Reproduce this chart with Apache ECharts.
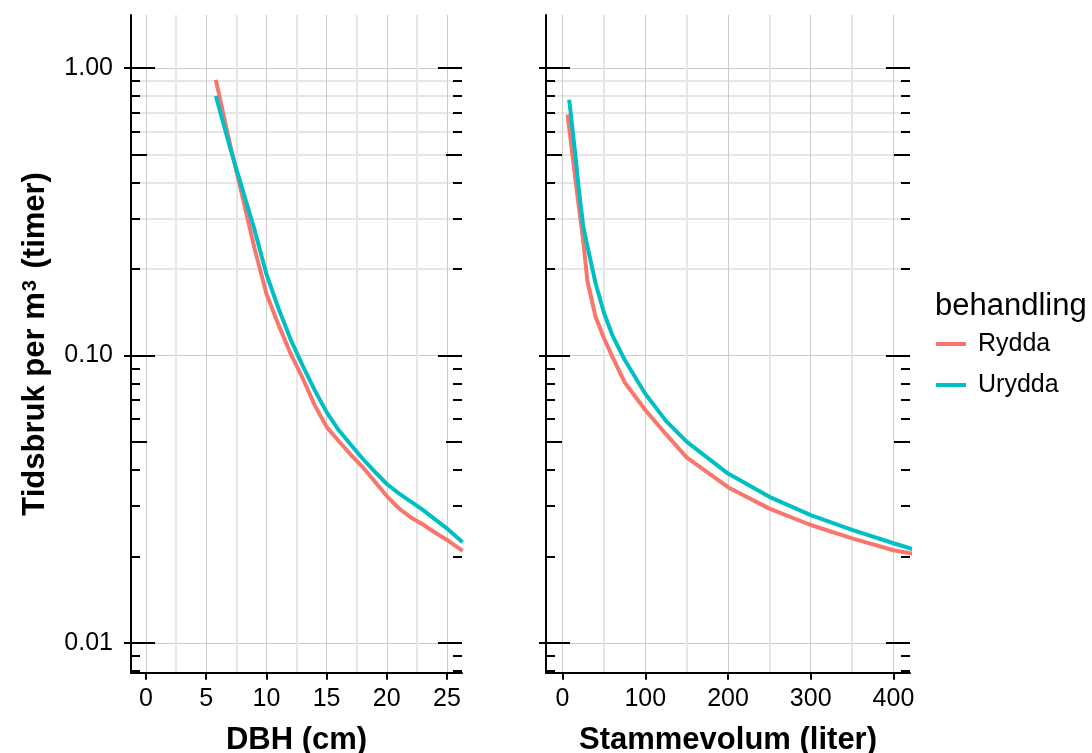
<!DOCTYPE html>
<html><head><meta charset="utf-8">
<script src="https://cdn.jsdelivr.net/npm/echarts@6/dist/echarts.min.js"></script>
<style>html,body{margin:0;padding:0;background:#fff}#c{width:1092px;height:753px}</style>
</head><body><div id="c"></div>
<script>
// ---------- data ----------
const seriesNames = ['Rydda', 'Urydda'];

// Left panel: DBH (cm)
const dbhX = [5.8, 7, 8, 9, 10, 11, 12, 13, 14, 15, 16, 17, 18, 19, 20, 21, 22, 23, 24, 25, 26.3];
const ryddaByDbh = [0.91, 0.538, 0.359, 0.237, 0.164, 0.128, 0.1016, 0.0836, 0.0673, 0.0564, 0.0504, 0.0452, 0.0409, 0.0364, 0.0324, 0.0294, 0.0273, 0.0258, 0.0242, 0.0228, 0.0209];
const uryddaByDbh = [0.80, 0.525, 0.380, 0.275, 0.192, 0.146, 0.114, 0.0923, 0.0759, 0.0635, 0.055, 0.049, 0.0437, 0.0394, 0.0357, 0.0331, 0.031, 0.029, 0.0269, 0.025, 0.0224];

// Right panel: Stammevolum (liter)
const volXRydda = [6, 10, 15, 20, 25, 30, 40, 50, 60, 75, 100, 125, 150, 200, 250, 300, 350, 400, 425];
const ryddaByVol = [0.69, 0.556, 0.422, 0.324, 0.251, 0.182, 0.136, 0.115, 0.0993, 0.0807, 0.0646, 0.0532, 0.0442, 0.0348, 0.0293, 0.0257, 0.0231, 0.0210, 0.0204];
const volXUrydda = [8, 10, 15, 20, 25, 30, 40, 50, 60, 75, 100, 125, 150, 200, 250, 300, 350, 400, 425];
const uryddaByVol = [0.776, 0.692, 0.513, 0.372, 0.282, 0.240, 0.178, 0.141, 0.118, 0.0966, 0.0736, 0.0592, 0.0501, 0.0388, 0.0322, 0.0278, 0.0247, 0.0222, 0.0211];

// Tick labels
const yTicks = [0.01, 0.1, 1];
const yTickLabels = ['0.01', '0.10', '1.00'];
const dbhTicks = [0, 5, 10, 15, 20, 25];
const dbhMinorGrid = [2.5, 7.5, 12.5, 17.5, 22.5];
const volTicks = [0, 100, 200, 300, 400];
const volMinorGrid = [50, 150, 250, 350];
const yMinorGrid = [0.2, 0.3, 0.4, 0.5, 0.6, 0.7, 0.8, 0.9];

// log tick positions (annotation_logticks)
const decades = [0.001, 0.01, 0.1, 1];
const logShort = [], logMid = [], logLong = [];
decades.forEach(d => {
  logLong.push(d);
  [2, 3, 4, 6, 7, 8, 9].forEach(k => logShort.push(+(k * d).toPrecision(3)));
  logMid.push(+(5 * d).toPrecision(3));
});

// ---------- style ----------
const colors = ['#F8766D', '#00BFC4'];
const FONT = '"Liberation Sans", Arial, sans-serif';
const yMin = 0.00787, yMax = 1.53;

function toPairs(xs, ys) { return xs.map((x, i) => [x, ys[i]]); }

function yAx(g, extra) {
  return Object.assign({
    type: 'log', logBase: 10, gridIndex: g, min: yMin, max: yMax,
    axisLine: { show: false, onZero: false },
    axisTick: { show: false },
    axisLabel: { show: false },
    splitLine: { show: false },
    minorTick: { show: false }, minorSplitLine: { show: false }
  }, extra);
}
function xAx(g, min, max, extra) {
  return Object.assign({
    type: 'value', gridIndex: g, min: min, max: max, position: 'bottom',
    axisLine: { show: false, onZero: false },
    axisTick: { show: false },
    axisLabel: { show: false },
    splitLine: { show: false }
  }, extra);
}

const tickLine = { color: '#000', width: 2 };
const majorGrid = { color: '#cccccc', width: 1 };
const minorGridStyle = { color: '#e6e6e6', width: 2 };

const xAxes = [], yAxes = [];
const panels = [
  { min: -1.25, max: 26.25, ticks: dbhTicks, minor: dbhMinorGrid, name: 'DBH (cm)' },
  { min: -20, max: 420, ticks: volTicks, minor: volMinorGrid, name: 'Stammevolum (liter)' }
];
const mainY = [];
const mainX = [];
panels.forEach((p, g) => {
  xAxes.push(xAx(g, p.min, p.max, {
    axisTick: { show: false, customValues: p.minor },
    splitLine: { show: true, lineStyle: minorGridStyle }
  }));
  mainX.push(xAxes.length);
  xAxes.push(xAx(g, p.min, p.max, {
    axisLine: { show: true, onZero: false, lineStyle: tickLine },
    axisTick: { show: true, length: 7, customValues: p.ticks, lineStyle: tickLine },
    axisLabel: { show: true, customValues: p.ticks, fontSize: 25, color: '#000', fontFamily: FONT, margin: 14 },
    splitLine: { show: true, lineStyle: majorGrid },
    name: p.name, nameLocation: 'middle', nameGap: 52,
    nameTextStyle: { fontSize: 31, fontWeight: 'bold', color: '#000', fontFamily: FONT }
  }));
  yAxes.push(yAx(g, {
    position: 'left',
    axisTick: { show: false, customValues: yMinorGrid },
    splitLine: { show: true, lineStyle: minorGridStyle }
  }));
  mainY.push(yAxes.length);
  const main = yAx(g, {
    position: 'left',
    axisLine: { show: true, onZero: false, lineStyle: tickLine },
    axisTick: { show: true, length: 7, customValues: yTicks, lineStyle: tickLine },
    axisLabel: {
      show: g === 0, customValues: yTicks, fontSize: 25, color: '#000', fontFamily: FONT, margin: 18,
      formatter: function (v) {
        let best = 0;
        yTicks.forEach((t, i) => { if (Math.abs(Math.log10(v) - Math.log10(t)) < Math.abs(Math.log10(v) - Math.log10(yTicks[best]))) best = i; });
        return yTickLabels[best];
      }
    },
    splitLine: { show: true, lineStyle: majorGrid }
  });
  if (g === 0) {
    main.name = 'Tidsbruk per m{s|3} (timer)';
    main.nameLocation = 'middle';
    main.nameRotate = 90;
    main.nameGap = 80;
    main.nameTextStyle = {
      fontSize: 31, fontWeight: 'bold', color: '#000', fontFamily: FONT,
      rich: { s: { fontSize: 20, fontWeight: 'bold', color: '#000', fontFamily: FONT, verticalAlign: 'top', padding: [0, 3, 6, 1] } }
    };
  }
  yAxes.push(main);
  ['left', 'right'].forEach(side => {
    [[logShort, 9], [logMid, 16], [logLong, 24]].forEach(([vals, len]) => {
      yAxes.push(yAx(g, {
        position: side,
        axisTick: { show: true, inside: true, length: len, customValues: vals, lineStyle: tickLine }
      }));
    });
  });
});

function lineSeries(name, idx, g, data) {
  return {
    type: 'line', name: name, xAxisIndex: mainX[g], yAxisIndex: mainY[g], data: data,
    showSymbol: false, symbol: 'none', clip: true, z: 3,
    lineStyle: { color: colors[idx], width: 4 },
    itemStyle: { color: colors[idx], borderWidth: 0 },
    color: colors[idx]
  };
}

const option = {
  animation: false,
  backgroundColor: '#fff',
  grid: [
    { left: 131, top: 15, width: 331, bottom: 80.3, outerBoundsMode: 'none', containLabel: false },
    { left: 546, top: 15, width: 364, bottom: 80.3, outerBoundsMode: 'none', containLabel: false }
  ],
  xAxis: xAxes,
  yAxis: yAxes,
  legend: {
    data: seriesNames, orient: 'vertical', left: 936, top: 328, padding: 0,
    itemWidth: 30, itemHeight: 4, icon: 'rect', itemGap: 9,
    itemStyle: { borderWidth: 0 },
    textStyle: { fontSize: 25, color: '#000', fontFamily: FONT, lineHeight: 30, padding: [2, 0, 0, 7] }
  },
  graphic: [{
    type: 'text', left: 935, top: 291,
    style: { text: 'behandling', font: '31px "Liberation Sans", Arial, sans-serif', fill: '#000' }
  }],
  series: [
    lineSeries(seriesNames[0], 0, 0, toPairs(dbhX, ryddaByDbh)),
    lineSeries(seriesNames[1], 1, 0, toPairs(dbhX, uryddaByDbh)),
    lineSeries(seriesNames[0], 0, 1, toPairs(volXRydda, ryddaByVol)),
    lineSeries(seriesNames[1], 1, 1, toPairs(volXUrydda, uryddaByVol))
  ]
};
const chart = echarts.init(document.getElementById('c'), null, { renderer: 'canvas' });
chart.setOption(option);
</script>
</body></html>
